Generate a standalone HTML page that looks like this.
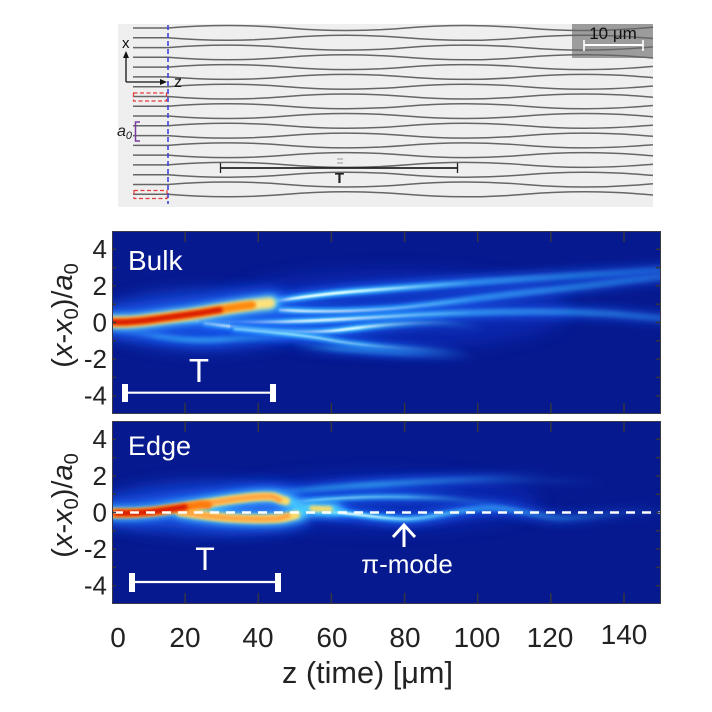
<!DOCTYPE html>
<html><head><meta charset="utf-8">
<style>html,body{margin:0;padding:0;background:#fff;}svg{display:block;}</style>
</head><body>
<svg width="712" height="712" viewBox="0 0 712 712" xmlns="http://www.w3.org/2000/svg" font-family="'Liberation Sans', Arial, sans-serif">
<defs>
 <filter id="b8" filterUnits="userSpaceOnUse" x="0" y="0" width="712" height="712"><feGaussianBlur stdDeviation="8"/></filter>
 <filter id="b4" filterUnits="userSpaceOnUse" x="0" y="0" width="712" height="712"><feGaussianBlur stdDeviation="4"/></filter>
 <filter id="b2" filterUnits="userSpaceOnUse" x="0" y="0" width="712" height="712"><feGaussianBlur stdDeviation="2"/></filter>
 <filter id="b15" filterUnits="userSpaceOnUse" x="0" y="0" width="712" height="712"><feGaussianBlur stdDeviation="1.5"/></filter>
 <filter id="b08" filterUnits="userSpaceOnUse" x="0" y="0" width="712" height="712"><feGaussianBlur stdDeviation="0.9"/></filter>
 <clipPath id="cb"><rect x="112" y="231" width="549" height="183"/></clipPath>
 <clipPath id="ce"><rect x="112" y="421" width="549" height="183"/></clipPath>
 <clipPath id="ct"><rect x="118" y="24" width="535" height="183"/></clipPath>
 <linearGradient id="gW" gradientUnits="userSpaceOnUse" x1="112" y1="0" x2="661" y2="0">
  <stop offset="0" stop-color="#eaffff" stop-opacity="0"/>
  <stop offset="0.12" stop-color="#eaffff" stop-opacity="0.95"/>
  <stop offset="0.42" stop-color="#eaffff" stop-opacity="0.95"/>
  <stop offset="0.56" stop-color="#eaffff" stop-opacity="0.25"/>
  <stop offset="0.66" stop-color="#eaffff" stop-opacity="0"/>
 </linearGradient>
 <linearGradient id="gC" gradientUnits="userSpaceOnUse" x1="112" y1="0" x2="661" y2="0">
  <stop offset="0" stop-color="#3cc0ff" stop-opacity="0.9"/>
  <stop offset="0.45" stop-color="#3cc0ff" stop-opacity="1"/>
  <stop offset="0.65" stop-color="#3cc0ff" stop-opacity="0.55"/>
  <stop offset="1" stop-color="#3cc0ff" stop-opacity="0.25"/>
 </linearGradient>
 <linearGradient id="gB" gradientUnits="userSpaceOnUse" x1="112" y1="0" x2="661" y2="0">
  <stop offset="0" stop-color="#1a5cf0" stop-opacity="0.9"/>
  <stop offset="0.5" stop-color="#1a5cf0" stop-opacity="0.8"/>
  <stop offset="1" stop-color="#1a5cf0" stop-opacity="0.4"/>
 </linearGradient>
 <linearGradient id="fE" x1="0" y1="0" x2="1" y2="0"><stop offset="0" stop-color="#fff"/><stop offset="0.55" stop-color="#fff"/><stop offset="1" stop-color="#000"/></linearGradient>
 <linearGradient id="fB" x1="0" y1="0" x2="1" y2="0"><stop offset="0" stop-color="#000"/><stop offset="0.25" stop-color="#fff"/><stop offset="0.6" stop-color="#fff"/><stop offset="1" stop-color="#000"/></linearGradient>

 <mask id="mL1" maskUnits="userSpaceOnUse" x="0" y="0" width="712" height="712"><rect x="198" y="0" width="290" height="712" fill="url(#fE)"/></mask>
 <mask id="mL1b" maskUnits="userSpaceOnUse" x="0" y="0" width="712" height="712"><rect x="230" y="0" width="240" height="712" fill="url(#fE)"/></mask>
 <mask id="mL2" maskUnits="userSpaceOnUse" x="0" y="0" width="712" height="712"><rect x="112" y="0" width="180" height="712" fill="url(#fB)"/></mask>
 <mask id="mL3" maskUnits="userSpaceOnUse" x="0" y="0" width="712" height="712"><rect x="290" y="0" width="190" height="712" fill="url(#fB)"/></mask>
 <mask id="mPI" maskUnits="userSpaceOnUse" x="0" y="0" width="712" height="712"><rect x="300" y="0" width="380" height="712" fill="url(#fE)"/></mask>
 <mask id="mUB1" maskUnits="userSpaceOnUse" x="0" y="0" width="712" height="712"><rect x="130" y="0" width="420" height="712" fill="url(#fB)"/></mask>
 <mask id="mUB2" maskUnits="userSpaceOnUse" x="0" y="0" width="712" height="712"><rect x="280" y="0" width="230" height="712" fill="url(#fE)"/></mask>
 <mask id="mUB3" maskUnits="userSpaceOnUse" x="0" y="0" width="712" height="712"><rect x="290" y="0" width="320" height="712" fill="url(#fB)"/></mask>

 <path id="wg" d="M133,0 L168,0 Q227.5,-5 287,0 T406,0 T525,0 T644,0 T763,0" fill="none" stroke="#666" stroke-width="1.5"/>

 <path id="pU1" d="M250,305 C290,299 320,294 360,291 S460,283 540,278 S620,273 661,270" fill="none"/>
 <path id="pU2" d="M280,310 C310,312 350,312 390,309 S480,297 540,291 S620,281 661,277" fill="none"/>
 <path id="pM0" d="M175,318 C200,322 240,323 280,322 S350,319 400,316 S500,311 560,312 S630,316 661,318" fill="none"/>
 <path id="pL1" d="M205,323 C240,328 280,332 310,332 S350,327 400,324 S450,324 485,328" fill="none"/>
 <path id="pL1b" d="M235,329 C280,333 310,336 330,340 S370,346 400,348 S440,351 470,353" fill="none"/>
 <path id="pL2" d="M118,330 C150,334 175,340 200,340 S250,337 290,339" fill="none"/>
 <path id="pL3" d="M295,346 C340,349 380,352 420,354 S460,357 480,358" fill="none"/>
 <path id="pC1" d="M282,501 C300,505 320,509 345,511" fill="none"/>
 <path id="pPI" d="M315,511 C350,512 380,519 405,519 S460,509 487,508 S540,518 565,518 S620,511 661,512" fill="none"/>
 <path id="pUB1" d="M135,502 C170,500 200,500 230,497 S280,492 320,489 S400,483 440,481 S500,475 545,474" fill="none"/>
 <path id="pUB2" d="M285,503 C330,498 370,496 410,497 S470,500 505,506" fill="none"/>
 <path id="pUB3" d="M295,490 C330,487 345,485 360,485 S420,481 460,480 S540,480 605,483" fill="none"/>
</defs>

<rect width="712" height="712" fill="#fff"/>

<!-- ===== Top SEM image ===== -->
<rect x="118" y="24" width="535" height="183" fill="#efefef"/>
<rect x="572" y="24" width="81" height="34" fill="#9c9c9c"/>
<g clip-path="url(#ct)">
 <use href="#wg" transform="translate(0,28)"/>
 <use href="#wg" transform="translate(0,37.8) scale(1,-1)"/>
 <use href="#wg" transform="translate(0,47.6)"/>
 <use href="#wg" transform="translate(0,57.3) scale(1,-1)"/>
 <use href="#wg" transform="translate(0,67.1)"/>
 <use href="#wg" transform="translate(0,76.9) scale(1,-1)"/>
 <use href="#wg" transform="translate(0,86.7)"/>
 <use href="#wg" transform="translate(0,96.5) scale(1,-1)"/>
 <use href="#wg" transform="translate(0,106.2)"/>
 <use href="#wg" transform="translate(0,116) scale(1,-1)"/>
 <use href="#wg" transform="translate(0,125.8)"/>
 <use href="#wg" transform="translate(0,135.6) scale(1,-1)"/>
 <use href="#wg" transform="translate(0,145.4)"/>
 <use href="#wg" transform="translate(0,155.1) scale(1,-1)"/>
 <use href="#wg" transform="translate(0,164.9)"/>
 <use href="#wg" transform="translate(0,174.7) scale(1,-1)"/>
 <use href="#wg" transform="translate(0,184.5)"/>
 <use href="#wg" transform="translate(0,194.3) scale(1,-1)"/>
</g>
<line x1="168" y1="25" x2="168" y2="204" stroke="#3a46d8" stroke-width="1.6" stroke-dasharray="5,3"/>
<rect x="133.5" y="93" width="33" height="8" fill="none" stroke="#e23a3a" stroke-width="1.2" stroke-dasharray="4,2.5"/>
<rect x="134" y="190.5" width="33" height="8" fill="none" stroke="#e23a3a" stroke-width="1.2" stroke-dasharray="4,2.5"/>
<path d="M140,122 L135.5,122 L135.5,141 L140,141" fill="none" stroke="#7a3aa0" stroke-width="1.5"/>
<text x="117" y="136" font-size="16" font-style="italic" fill="#222">a<tspan font-size="11" dy="3">0</tspan></text>
<line x1="126" y1="82" x2="126" y2="57" stroke="#111" stroke-width="1.3"/>
<polygon points="126,51 123,58 129,58" fill="#111"/>
<line x1="126" y1="82" x2="161" y2="82" stroke="#111" stroke-width="1.3"/>
<polygon points="167,82 160,79 160,85" fill="#111"/>
<text x="122" y="48" font-size="15" fill="#111">x</text>
<text x="174" y="87" font-size="16" fill="#111">z</text>
<line x1="220" y1="168" x2="458" y2="168" stroke="#222" stroke-width="1.8"/>
<line x1="220.5" y1="163" x2="220.5" y2="173" stroke="#222" stroke-width="1.3"/>
<line x1="457.5" y1="163" x2="457.5" y2="173" stroke="#222" stroke-width="1.3"/>
<line x1="337" y1="159" x2="343" y2="159" stroke="#999" stroke-width="1"/>
<line x1="337" y1="163" x2="343" y2="163" stroke="#999" stroke-width="1"/>
<text x="339.5" y="183" font-size="15" font-weight="bold" fill="#222" text-anchor="middle">T</text>
<text x="613" y="39" font-size="17" fill="#111" text-anchor="middle">10 μm</text>
<line x1="584" y1="45" x2="643" y2="45" stroke="#fff" stroke-width="2"/>
<line x1="584" y1="40" x2="584" y2="51" stroke="#fff" stroke-width="1.6"/>
<line x1="643" y1="40" x2="643" y2="51" stroke="#fff" stroke-width="1.6"/>

<!-- ===== Bulk panel ===== -->
<rect x="112" y="231" width="549" height="183" fill="#07198f"/>
<g clip-path="url(#cb)">
 <ellipse cx="205" cy="320" rx="105" ry="30" fill="#1248dc" opacity="0.75" filter="url(#b8)"/>
 <ellipse cx="390" cy="310" rx="180" ry="40" fill="#0c30c8" opacity="0.5" filter="url(#b8)"/>
 <g fill="none" stroke-linecap="round">
  <g>
   <use href="#pU1" stroke="url(#gB)" stroke-width="14" filter="url(#b4)"/>
   <use href="#pU1" stroke="url(#gC)" stroke-width="6.5" filter="url(#b15)"/>
   <use href="#pU1" stroke="url(#gW)" stroke-width="2.8" filter="url(#b08)"/>
  </g>
  <g>
   <use href="#pU2" stroke="url(#gB)" stroke-width="14" filter="url(#b4)"/>
   <use href="#pU2" stroke="url(#gC)" stroke-width="6.5" filter="url(#b15)"/>
   <use href="#pU2" stroke="url(#gW)" stroke-width="2.8" filter="url(#b08)"/>
  </g>
  <g>
   <use href="#pM0" stroke="url(#gB)" stroke-width="14" filter="url(#b4)"/>
   <use href="#pM0" stroke="url(#gC)" stroke-width="6.5" filter="url(#b15)"/>
   <use href="#pM0" stroke="url(#gW)" stroke-width="3" filter="url(#b08)"/>
  </g>
  <g mask="url(#mL1)">
   <use href="#pL1" stroke="url(#gB)" stroke-width="14" filter="url(#b4)"/>
   <use href="#pL1" stroke="url(#gC)" stroke-width="6.5" filter="url(#b15)"/>
   <use href="#pL1" stroke="url(#gW)" stroke-width="2.8" filter="url(#b08)"/>
  </g>
  <g mask="url(#mL1b)" opacity="0.9">
   <use href="#pL1b" stroke="url(#gB)" stroke-width="13" filter="url(#b4)"/>
   <use href="#pL1b" stroke="url(#gC)" stroke-width="5.5" filter="url(#b15)"/>
   <use href="#pL1b" stroke="url(#gW)" stroke-width="2" filter="url(#b08)" opacity="0.6"/>
  </g>
  <g mask="url(#mL2)" opacity="0.75">
   <use href="#pL2" stroke="url(#gB)" stroke-width="13" filter="url(#b4)"/>
   <use href="#pL2" stroke="url(#gC)" stroke-width="5" filter="url(#b2)"/>
  </g>
  <g mask="url(#mL3)" opacity="0.5">
   <use href="#pL3" stroke="url(#gB)" stroke-width="12" filter="url(#b4)"/>
   <use href="#pL3" stroke="url(#gC)" stroke-width="4.5" filter="url(#b2)"/>
  </g>
  <path d="M112,322 C135,323 155,319 180,316 S235,306 272,303" stroke="#1a5cf0" stroke-width="24" filter="url(#b8)"/>
  <path d="M112,322 C135,323 155,319 180,316 S235,306 272,303" stroke="#4ad0ff" stroke-width="15" filter="url(#b4)"/>
  <path d="M112,322 C135,323 155,319 180,316 S235,306 270,303" stroke="#ffe27a" stroke-width="11" filter="url(#b2)"/>
  <path d="M112,322 C135,323 155,319 180,316 S230,307 252,305" stroke="#ff8a10" stroke-width="8" filter="url(#b15)"/>
  <path d="M113,322 C135,323 155,319 185,315 S205,312 220,310" stroke="#d81400" stroke-width="5.5" filter="url(#b15)"/>
 </g>
</g>
<rect x="112.5" y="231.5" width="548" height="182" fill="none" stroke="#3a3a4a" stroke-width="1"/>
<g stroke="#353540" stroke-width="1.5">
 <path d="M185.1,231V242M258.3,231V242M331.4,231V242M404.6,231V242M477.7,231V242M550.8,231V242M624,231V242"/>
 <path d="M185.1,414V403M258.3,414V403M331.4,414V403M404.6,414V403M477.7,414V403M550.8,414V403M624,414V403"/>
 <path d="M112,249.3h4M112,267.6h4M112,285.9h4M112,304.2h4M112,322.5h4M112,340.8h4M112,359.1h4M112,377.4h4M112,395.7h4"/>
 <path d="M661,249.3h-5M661,267.6h-5M661,285.9h-5M661,304.2h-5M661,322.5h-5M661,340.8h-5M661,359.1h-5M661,377.4h-5M661,395.7h-5"/>
</g>
<text x="128" y="270" font-size="28" fill="#fff">Bulk</text>
<text x="199" y="382" font-size="33" fill="#fff" text-anchor="middle">T</text>
<line x1="125" y1="392.7" x2="273" y2="392.7" stroke="#fff" stroke-width="2.2"/>
<rect x="122" y="384" width="6" height="18" fill="#fff"/>
<rect x="270" y="384" width="6" height="18" fill="#fff"/>

<!-- ===== Edge panel ===== -->
<rect x="112" y="421" width="549" height="183" fill="#07198f"/>
<g clip-path="url(#ce)">
 <ellipse cx="205" cy="508" rx="105" ry="26" fill="#1248dc" opacity="0.75" filter="url(#b8)"/>
 <ellipse cx="380" cy="502" rx="160" ry="28" fill="#0c30c8" opacity="0.5" filter="url(#b8)"/>
 <g fill="none" stroke-linecap="round">
  <g>
   <use href="#pC1" stroke="url(#gB)" stroke-width="14" filter="url(#b4)"/>
   <use href="#pC1" stroke="url(#gC)" stroke-width="6" filter="url(#b15)"/>
   <use href="#pC1" stroke="url(#gW)" stroke-width="2.4" filter="url(#b08)"/>
  </g>
  <g mask="url(#mPI)">
   <use href="#pPI" stroke="url(#gB)" stroke-width="14" filter="url(#b4)"/>
   <use href="#pPI" stroke="url(#gC)" stroke-width="6" filter="url(#b15)"/>
   <use href="#pPI" stroke="url(#gW)" stroke-width="2.4" filter="url(#b08)"/>
  </g>
  <g mask="url(#mUB1)" opacity="0.6">
   <use href="#pUB1" stroke="url(#gB)" stroke-width="13" filter="url(#b4)"/>
   <use href="#pUB1" stroke="url(#gC)" stroke-width="5" filter="url(#b2)"/>
  </g>
  <g mask="url(#mUB2)" opacity="0.85">
   <use href="#pUB2" stroke="url(#gB)" stroke-width="13" filter="url(#b4)"/>
   <use href="#pUB2" stroke="url(#gC)" stroke-width="5" filter="url(#b15)"/>
   <use href="#pUB2" stroke="url(#gW)" stroke-width="1.8" filter="url(#b08)" opacity="0.5"/>
  </g>
  <g mask="url(#mUB3)" opacity="0.4">
   <use href="#pUB3" stroke="url(#gB)" stroke-width="12" filter="url(#b4)"/>
   <use href="#pUB3" stroke="url(#gC)" stroke-width="4.5" filter="url(#b2)"/>
  </g>
  <g stroke="#1a5cf0" stroke-width="20" filter="url(#b8)">
   <path d="M112,513 C140,514 160,511 185,507"/>
   <path d="M185,507 C205,504 230,499 255,497 S278,499 290,502"/>
   <path d="M180,512 C200,515 225,519 255,519 S285,518 300,514"/>
  </g>
  <g stroke="#46d0ff" stroke-width="12" filter="url(#b4)">
   <path d="M112,513 C140,514 160,511 185,507"/>
   <path d="M185,507 C205,504 230,499 255,497 S278,499 292,502"/>
   <path d="M180,512 C200,515 225,519 255,519 S285,518 302,514"/>
   <path d="M300,509 L335,509"/>
  </g>
  <g stroke="#ffdc66" stroke-width="8.5" filter="url(#b15)">
   <path d="M112,513 C140,514 160,511 185,507"/>
   <path d="M185,507 C205,504 230,499 255,497 S276,499 286,501"/>
   <path d="M180,512 C200,515 225,519 255,519 S283,518 296,515"/>
   <path d="M312,508.5 L330,509" stroke-width="5.5"/>
  </g>
  <g stroke="#ffa040" stroke-width="5" filter="url(#b15)">
   <path d="M185,507 C205,504 230,499 255,497 S272,498 280,500"/>
   <path d="M180,512 C200,515 225,519 255,519 S278,518 288,516"/>
  </g>
  <path d="M112,513 C140,514 160,511 185,507 S198,505 208,505" stroke="#ff7a10" stroke-width="8" filter="url(#b15)"/>
  <path d="M116,513 C140,514 160,511 185,507" stroke="#d81400" stroke-width="5.5" filter="url(#b15)"/>
 </g>
 <line x1="114" y1="512.5" x2="661" y2="512.5" stroke="#fff" stroke-width="2.5" stroke-dasharray="9,7"/>
</g>
<rect x="112.5" y="421.5" width="548" height="182" fill="none" stroke="#3a3a4a" stroke-width="1"/>
<g stroke="#353540" stroke-width="1.5">
 <path d="M185.1,421V432M258.3,421V432M331.4,421V432M404.6,421V432M477.7,421V432M550.8,421V432M624,421V432"/>
 <path d="M185.1,604V593M258.3,604V593M331.4,604V593M404.6,604V593M477.7,604V593M550.8,604V593M624,604V593"/>
 <path d="M112,439.3h4M112,457.6h4M112,475.9h4M112,494.2h4M112,512.5h4M112,530.8h4M112,549.1h4M112,567.4h4M112,585.7h4"/>
 <path d="M661,439.3h-5M661,457.6h-5M661,475.9h-5M661,494.2h-5M661,512.5h-5M661,530.8h-5M661,549.1h-5M661,567.4h-5M661,585.7h-5"/>
</g>
<text x="128" y="455" font-size="27" fill="#fff">Edge</text>
<text x="205" y="570" font-size="32" fill="#fff" text-anchor="middle">T</text>
<line x1="132" y1="582" x2="278" y2="582" stroke="#fff" stroke-width="2.2"/>
<rect x="129" y="573" width="6" height="19" fill="#fff"/>
<rect x="275" y="573" width="6" height="19" fill="#fff"/>
<line x1="404" y1="527" x2="404" y2="547" stroke="#fff" stroke-width="3"/>
<polyline points="393,537 404,525 415,537" fill="none" stroke="#fff" stroke-width="3"/>
<text x="407" y="573" font-size="26" fill="#fff" text-anchor="middle">π-mode</text>

<g font-size="26" fill="#222" text-anchor="end">
 <text x="107" y="258">4</text>
 <text x="107" y="295">2</text>
 <text x="107" y="331.5">0</text>
 <text x="107" y="368">-2</text>
 <text x="107" y="404.5">-4</text>
 <text x="107" y="448">4</text>
 <text x="107" y="485">2</text>
 <text x="107" y="521.5">0</text>
 <text x="107" y="558">-2</text>
 <text x="107" y="594.5">-4</text>
</g>
<text transform="translate(72,315.5) rotate(-90)" font-size="29" fill="#222" text-anchor="middle">(<tspan font-style="italic">x</tspan>-<tspan font-style="italic">x</tspan><tspan font-size="20" dy="6">0</tspan><tspan dy="-6">)/</tspan><tspan font-style="italic">a</tspan><tspan font-size="20" dy="6">0</tspan></text>
<text transform="translate(72,505.5) rotate(-90)" font-size="29" fill="#222" text-anchor="middle">(<tspan font-style="italic">x</tspan>-<tspan font-style="italic">x</tspan><tspan font-size="20" dy="6">0</tspan><tspan dy="-6">)/</tspan><tspan font-style="italic">a</tspan><tspan font-size="20" dy="6">0</tspan></text>

<g font-size="28" fill="#222" text-anchor="middle">
 <text x="118" y="647">0</text>
 <text x="185" y="647">20</text>
 <text x="258" y="647">40</text>
 <text x="332" y="647">60</text>
 <text x="405" y="647">80</text>
 <text x="477" y="647">100</text>
 <text x="550" y="647">120</text>
 <text x="624" y="644">140</text>
</g>
<text x="282" y="683" font-size="31" fill="#222" textLength="171" lengthAdjust="spacingAndGlyphs">z (time) [μm]</text>
</svg>
</body></html>
